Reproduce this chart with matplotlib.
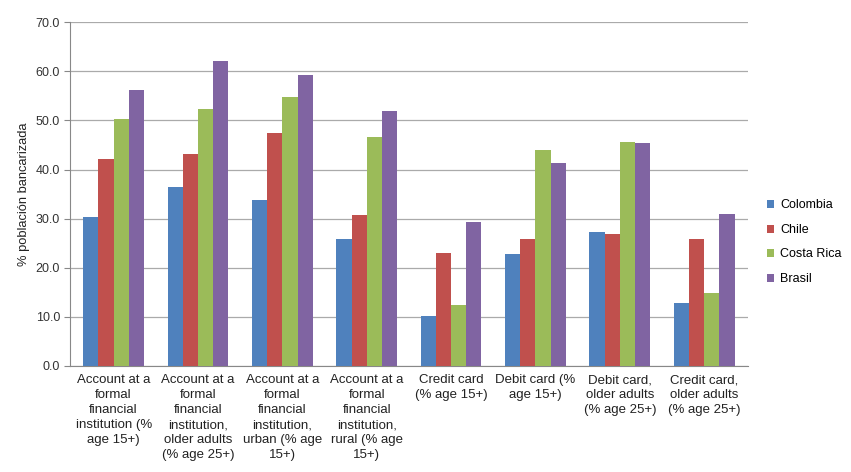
import matplotlib
matplotlib.use("Agg")
import matplotlib.pyplot as plt
import numpy as np

plt.rcParams['font.family'] = ['Liberation Sans', 'DejaVu Sans']

categories = [
    "Account at a\nformal\nfinancial\ninstitution (%\nage 15+)",
    "Account at a\nformal\nfinancial\ninstitution,\nolder adults\n(% age 25+)",
    "Account at a\nformal\nfinancial\ninstitution,\nurban (% age\n15+)",
    "Account at a\nformal\nfinancial\ninstitution,\nrural (% age\n15+)",
    "Credit card\n(% age 15+)",
    "Debit card (%\nage 15+)",
    "Debit card,\nolder adults\n(% age 25+)",
    "Credit card,\nolder adults\n(% age 25+)",
]
series_names = ["Colombia", "Chile", "Costa Rica", "Brasil"]
colombia = [30.4, 36.5, 33.7, 25.9, 10.2, 22.8, 27.2, 12.8]
chile = [42.2, 43.1, 47.4, 30.7, 23.1, 25.9, 26.8, 25.9]
costa_rica = [50.3, 52.4, 54.7, 46.6, 12.4, 43.9, 45.7, 14.8]
brasil = [56.1, 62.0, 59.3, 52.0, 29.3, 41.3, 45.3, 31.0]
values = [colombia, chile, costa_rica, brasil]
colors = ["#4F81BD", "#C0504D", "#9BBB59", "#8064A2"]

fig = plt.figure(figsize=(8.51, 4.72), dpi=100)
ax = fig.add_axes([0.082, 0.2246, 0.797, 0.7284])

x = np.arange(len(categories))
w = 0.18
for i, (name, vals, c) in enumerate(zip(series_names, values, colors)):
    ax.bar(x + (i - 1.5) * w, vals, width=w, color=c, label=name, zorder=3)

ax.set_xlim(-0.52, len(categories) - 0.48)
ax.set_ylim(0, 70)
ax.set_yticks(np.arange(0, 71, 10))
ax.set_yticklabels([f"{v:.1f}" for v in np.arange(0, 71, 10)], fontsize=9, color="#333333")
ax.set_xticks(x)
ax.set_xticklabels(categories, fontsize=9.5, color="#222222", linespacing=1.33)
ax.tick_params(axis='x', length=0, pad=6)
ax.tick_params(axis='y', length=4, color="#888888", pad=3)
ax.grid(axis='y', color="#AAAAAA", linewidth=0.9, zorder=0)
for s in ['top', 'right']:
    ax.spines[s].set_visible(False)
ax.spines['left'].set_color("#888888")
ax.spines['bottom'].set_color("#888888")
ax.set_ylabel("% población bancarizada", fontsize=9.3, color="#222222", labelpad=4)

ax.legend(loc='center left', bbox_to_anchor=(1.02, 0.36), borderaxespad=0, frameon=False, fontsize=9,
          handlelength=0.6, handleheight=0.6, handletextpad=0.5, labelspacing=1.0)

fig.savefig("out.png", dpi=100)
